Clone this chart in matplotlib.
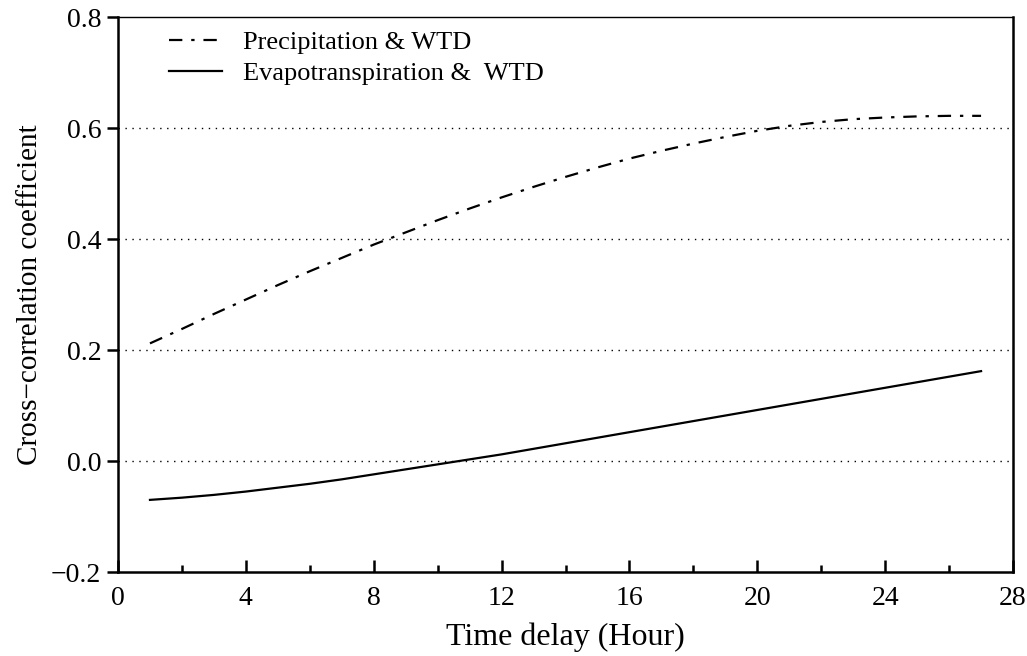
import matplotlib
matplotlib.use('Agg')
import matplotlib.pyplot as plt
from matplotlib.ticker import MultipleLocator

plt.rcParams['font.family'] = ['Liberation Serif', 'DejaVu Serif']

hours = list(range(1, 28))
precip_wtd = [0.212, 0.238, 0.265, 0.291, 0.317, 0.342, 0.366, 0.390, 0.412,
              0.434, 0.455, 0.475, 0.494, 0.512, 0.529, 0.545, 0.559, 0.572,
              0.584, 0.595, 0.604, 0.611, 0.616, 0.619, 0.621, 0.622, 0.622]
evap_wtd = [-0.070, -0.066, -0.061, -0.055, -0.048, -0.041, -0.033, -0.024,
            -0.015, -0.006, 0.003, 0.012, 0.022, 0.032, 0.042, 0.052, 0.062,
            0.072, 0.082, 0.092, 0.102, 0.112, 0.122, 0.132, 0.142, 0.152, 0.162]
yticks = [-0.2, 0.0, 0.2, 0.4, 0.6, 0.8]
ytick_labels = ['\u22120.2', '0.0', '0.2', '0.4', '0.6', '0.8']

fig = plt.figure(figsize=(10.27, 6.56), dpi=100)
ax = fig.add_axes([0.1149, 0.128, 0.8715, 0.846])

# dotted gridlines at interior y ticks
for yv in [0.0, 0.2, 0.4, 0.6]:
    ax.axhline(yv, color='black', lw=1.0, ls=(0, (1, 4)), zorder=1)

ax.plot(hours, precip_wtd, color='black', lw=1.6, ls=(0, (6, 4, 1.5, 4)),
        label='Precipitation & WTD', zorder=3)
ax.plot(hours, evap_wtd, color='black', lw=1.6, ls='-',
        label='Evapotranspiration &  WTD', zorder=3)

ax.set_xlim(0, 28)
ax.set_ylim(-0.2, 0.8)
ax.xaxis.set_major_locator(MultipleLocator(4))
ax.xaxis.set_minor_locator(MultipleLocator(2))
ax.set_yticks(yticks)
ax.set_yticklabels(ytick_labels)

ax.tick_params(axis='x', which='major', direction='in', length=9, width=1.8,
               labelsize=20, pad=10)
ax.tick_params(axis='x', which='minor', direction='in', length=5, width=1.8)
ax.tick_params(axis='y', which='major', direction='out', length=8, width=1.8,
               labelsize=20, pad=4)

for side in ['left', 'bottom', 'right']:
    ax.spines[side].set_linewidth(1.8)
ax.spines['top'].set_linewidth(1.0)

ax.set_xlabel('Time delay (Hour)', fontsize=23, labelpad=8)
ax.set_ylabel('Cross\u2212correlation coefficient', fontsize=21, labelpad=6)

ax.legend(loc='upper left', frameon=False, fontsize=19, handlelength=2.0,
          handletextpad=0.8, borderaxespad=0.0, labelspacing=0.3,
          bbox_to_anchor=(0.045, 0.995))

fig.savefig('out.png', dpi=100)
